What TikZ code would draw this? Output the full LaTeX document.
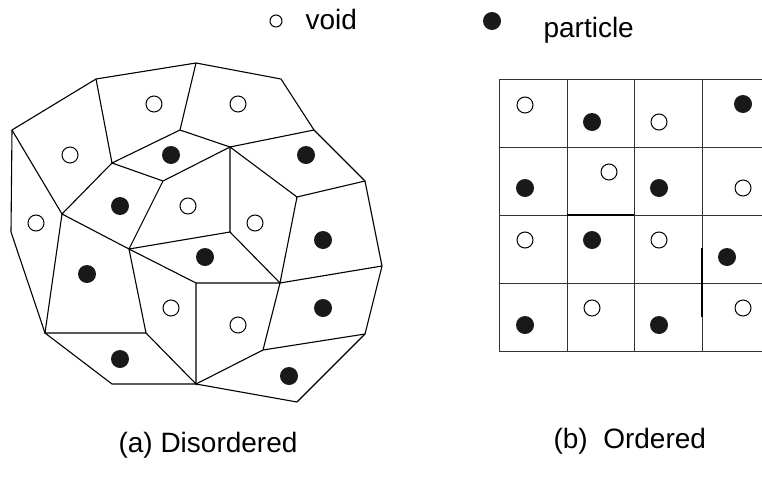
\documentclass[tikz,border=0pt]{standalone}
\usepackage{fontspec}
\setmainfont{Liberation Sans}
\usepackage{tikz}

\begin{document}
\begin{tikzpicture}[x=1pt,y=-1pt,line width=1.1pt,
    void/.style={circle,draw,fill=white,line width=1pt,inner sep=0pt,minimum size=16pt},
    particle/.style={circle,fill=black!90,inner sep=0pt,minimum size=18pt},
    caption/.style={font=\fontsize{28}{32}\selectfont,anchor=base west,inner sep=0pt}]
              \useasboundingbox (0,0) rectangle (762,490);
              % vertices of the disordered cells
              \coordinate (a) at (12,130);  \coordinate (b) at (96,79);
              \coordinate (c) at (196,63);  \coordinate (d) at (180,130);
              \coordinate (e) at (112,163); \coordinate (f) at (163,181);
              \coordinate (g) at (62,214);  \coordinate (h) at (129,249);
              \coordinate (i) at (11,232);  \coordinate (j) at (281,79);
              \coordinate (k) at (314,130); \coordinate (l) at (230,147);
              \coordinate (m) at (365,181); \coordinate (n) at (297,197);
              \coordinate (o) at (230,232); \coordinate (p) at (45,333);
              \coordinate (q) at (146,333); \coordinate (r) at (196,283);
              \coordinate (s) at (196,384); \coordinate (t) at (112,384);
              \coordinate (u) at (280,283); \coordinate (v) at (382,266);
              \coordinate (w) at (365,334); \coordinate (x) at (263,350);
              \coordinate (y) at (297,402);
              \draw[line join=round] (a)--(b)--(c)--(j)--(k)--(m)--(v)--(w)--(y)--(s)--(t)--(p)--(i)--cycle;
              \draw (b)--(e)--(d)--(c);
              \draw (a)--(g)--(e)--(f)--(l)--(d);
              \draw (k)--(l)--(o);
              \draw (l)--(n)--(m);
              \draw (n)--(u)--(v);
              \draw (g)--(h)--(f);
              \draw (h)--(o)--(u);
              \draw (g)--(p)--(q)--(h)--(r)--(s)--(q);
              \draw (r)--(u)--(x)--(w);
              \draw (x)--(s);
              % contents of the disordered cells
              \node[void](v1)at(154,104){};   \node[void](v2)at(238,104){};
              \node[void](v3)at(70,155){};    \node[void](v4)at(188,206){};
              \node[void](v5)at(255,223){};   \node[void](v6)at(36,223){};
              \node[void](v7)at(171,308){};   \node[void](v8)at(238,325){};
              \node[particle](p1)at(171,155){}; \node[particle](p2)at(306,155){};
              \node[particle](p3)at(120,206){}; \node[particle](p4)at(323,240){};
              \node[particle](p5)at(87,274){};  \node[particle](p6)at(205,257){};
              \node[particle](p7)at(323,308){}; \node[particle](p8)at(120,359){};
              \node[particle](p9)at(289,376){};
              % ordered grid
              \foreach \gx in {499,567,634,702}
                \draw[line width=0.9pt,black!80] (\gx,79) -- (\gx,351);
              \foreach \gy in {79,147,215,283,351}
                \draw[line width=0.9pt,black!80] (499,\gy) -- (762,\gy);
              \draw[line width=1.4pt] (702,248) -- (702,317);
              \draw[line width=1.2pt] (567,215) -- (634,215);
              \node[void](g1)at(525,105){};     \node[particle](g2)at(592,122){};
              \node[void](g3)at(659,122){};     \node[particle](g4)at(743,104){};
              \node[particle](g5)at(525,188){}; \node[void](g6)at(609,172){};
              \node[particle](g7)at(659,188){}; \node[void](g8)at(743,188){};
              \node[void](g9)at(525,240){};     \node[particle](g10)at(592,240){};
              \node[void](g11)at(659,240){};    \node[particle](g12)at(727,257){};
              \node[particle](g13)at(525,325){};\node[void](g14)at(592,308){};
              \node[particle](g15)at(659,325){};\node[void](g16)at(743,308){};
              % legend
              \node[void,minimum size=12pt](lv)at(276,21){};
              \node[caption](tv)at(305,29){void};
              \node[particle](lp)at(492,21){};
              \node[caption](tp)at(543,37){particle};
              % captions
              \node[caption](ca)at(118,452){(a) Disordered};
              \node[caption](cb)at(553,448){(b)~ Ordered};
            \end{tikzpicture}
\end{document}
